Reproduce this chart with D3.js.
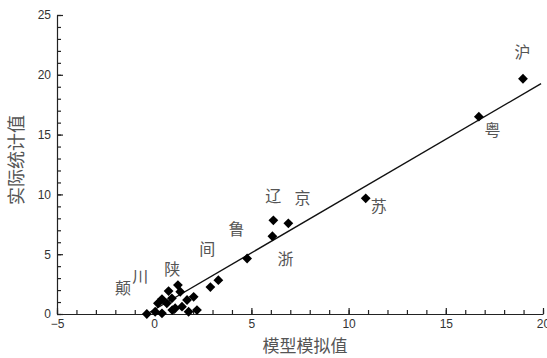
<!DOCTYPE html>
<html>
<head>
<meta charset="utf-8">
<script src="https://cdn.jsdelivr.net/npm/d3@7"></script>
<style>
  body { margin: 0; background: #fff; }
  svg { display: block; }
</style>
</head>
<body>
<div id="chart"></div>
<script>
// model value (x) vs. statistic value (y)
const modelValues = [-0.38, 0.05, 0.19, 0.40, 0.74, 0.65, 0.91, 1.22, 1.34, 1.08, 1.43, 1.69, 2.03, 1.77, 2.20, 0.40, 0.93,
  2.89, 3.30, 4.78, 6.08, 6.13, 6.90, 10.88, 16.70, 18.97];
const statValues = [0.00, 0.19, 0.89, 1.25, 1.92, 0.89, 1.31, 2.42, 1.86, 0.48, 0.61, 1.17, 1.44, 0.19, 0.33, 0.06, 0.33,
  2.25, 2.83, 4.64, 6.50, 7.83, 7.58, 9.67, 16.50, 19.67];

// fitted line end points
const fitX = [-0.4, 19.9];
const fitY = [-0.02, 19.26];

// province labels and where they sit (data units)
const labelNames = ['沪', '粤', '苏', '辽', '京', '浙', '鲁', '间', '陕', '川', '颠'];
const labelX = [18.95, 17.4, 11.55, 6.13, 7.63, 6.75, 4.23, 2.73, 0.93, -0.72, -1.6];
const labelY = [22.0, 15.5, 9.08, 9.92, 9.75, 4.67, 7.17, 5.5, 3.83, 3.25, 2.25];

const xTicks = [-5, 0, 5, 10, 15, 20];
const yTicks = [0, 5, 10, 15, 20, 25];

const width = 547, height = 358;
const svg = d3.select('#chart').append('svg')
  .attr('width', width)
  .attr('height', height);

const x = d3.scaleLinear().domain([-5, 20]).range([57, 543]);
const y = d3.scaleLinear().domain([0, 25]).range([314, 15]);

const numFont = 'Liberation Sans, Arial, sans-serif';
const cjkFont = 'Noto Sans CJK SC, sans-serif';

// minor ticks every 1
const xAxisMinor = d3.axisBottom(x).tickValues(d3.range(-5, 20.01, 1)).tickSize(-4).tickFormat('');
const yAxisMinor = d3.axisLeft(y).tickValues(d3.range(0, 25.01, 1)).tickSize(-4).tickFormat('');
const xAxis = d3.axisBottom(x).tickValues(xTicks).tickSize(-6).tickPadding(5).tickSizeOuter(0);
const yAxis = d3.axisLeft(y).tickValues(yTicks).tickSize(-6).tickPadding(6).tickSizeOuter(0);

svg.append('g').attr('transform', `translate(0,${y(0)})`).call(xAxisMinor)
  .call(g => g.select('.domain').remove());
svg.append('g').attr('transform', `translate(${x(-5)},0)`).call(yAxisMinor)
  .call(g => g.select('.domain').remove());

const gx = svg.append('g').attr('transform', `translate(0,${y(0)})`).call(xAxis);
const gy = svg.append('g').attr('transform', `translate(${x(-5)},0)`).call(yAxis);

[gx, gy].forEach(g => {
  g.selectAll('text')
    .style('font-family', numFont)
    .style('font-size', '12px')
    .style('fill', '#333');
});
svg.selectAll('.domain, .tick line')
  .attr('stroke', '#222')
  .attr('stroke-width', 1.2);

// axis titles
svg.append('text')
  .attr('x', 305)
  .attr('y', 352)
  .attr('text-anchor', 'middle')
  .style('font-family', cjkFont)
  .style('font-size', '17px')
  .style('fill', '#555')
  .text('模型模拟值');

svg.append('text')
  .attr('transform', `translate(23,160) rotate(-90)`)
  .attr('text-anchor', 'middle')
  .style('font-family', cjkFont)
  .style('font-size', '18px')
  .style('fill', '#555')
  .text('实际统计值');

// fitted line
const line = d3.line().x(d => x(d[0])).y(d => y(d[1]));
svg.append('path')
  .datum(d3.zip(fitX, fitY))
  .attr('d', line)
  .attr('fill', 'none')
  .attr('stroke', '#111')
  .attr('stroke-width', 1.4);

// points
const diamond = d3.symbol().type(d3.symbolSquare).size(48);
svg.append('g')
  .selectAll('path')
  .data(d3.zip(modelValues, statValues))
  .enter()
  .append('path')
  .attr('d', diamond)
  .attr('transform', d => `translate(${x(d[0])},${y(d[1])}) rotate(45)`)
  .attr('fill', '#000');

// labels
svg.append('g')
  .selectAll('text')
  .data(d3.zip(labelNames, labelX, labelY))
  .enter()
  .append('text')
  .attr('x', d => x(d[1]))
  .attr('y', d => y(d[2]))
  .attr('text-anchor', 'middle')
  .attr('dominant-baseline', 'central')
  .style('font-family', cjkFont)
  .style('font-size', '16px')
  .style('fill', '#555')
  .text(d => d[0]);
</script>
</body>
</html>
